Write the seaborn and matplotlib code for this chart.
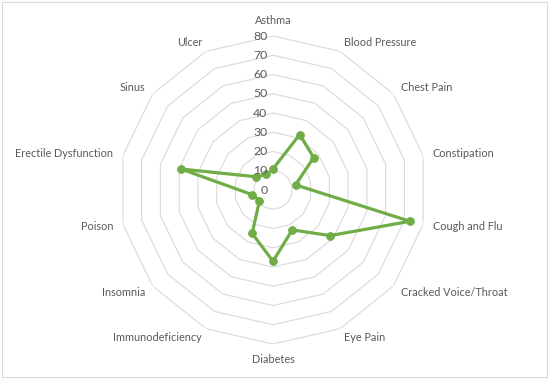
import numpy as np
import pandas as pd
import matplotlib.pyplot as plt
import seaborn as sns

# categories and values
categories = ["Asthma", "Blood Pressure", "Chest Pain", "Constipation", "Cough and Flu",
              "Cracked Voice/Throat", "Eye Pain", "Diabetes", "Immunodeficiency", "Insomnia",
              "Poison", "Erectile Dysfunction", "Sinus", "Ulcer"]
values = [11, 32, 27, 12, 73, 38, 23, 37, 25, 9, 11, 49, 11, 9]
rings = [0, 10, 20, 30, 40, 50, 60, 70, 80]

sns.set_style("white")
plt.rcParams["font.family"] = ["Lato", "DejaVu Sans"]

n = len(categories)
theta = np.linspace(0, 2 * np.pi, n, endpoint=False)

# close the loop for the line
df = pd.DataFrame({"theta": list(theta) + [theta[0]], "value": values + [values[0]]})

fig = plt.figure(figsize=(5.5, 3.79), dpi=100)
ax = fig.add_axes([0.2164, 0.0923, 0.56, 0.8127], projection="polar")
ax.set_theta_zero_location("N")
ax.set_theta_direction(-1)
ax.set_ylim(0, 80)
ax.grid(False)
ax.spines["polar"].set_visible(False)
ax.set_xticks([])
ax.set_yticks([])

# polygon rings
poly_t = list(theta) + [theta[0]]
for r in rings[1:]:
    ax.plot(poly_t, [r] * (n + 1), color="#D9D9D9", lw=0.8, zorder=1)

sns.lineplot(data=df, x="theta", y="value", sort=False, ax=ax, color="#70AD47",
             lw=2.3, marker="o", markersize=5.5, markeredgecolor="#70AD47", zorder=3)
ax.set_xlabel("")
ax.set_ylabel("")

# ring labels
for r in rings:
    ax.annotate(str(r), xy=(0, r), xytext=(-4, 0), textcoords="offset points",
                ha="right", va="center", fontsize=8.8, color="#595959")

# category labels
for t, lab in zip(theta, categories):
    deg = np.degrees(t)
    if np.isclose(deg, 0) or np.isclose(deg, 180):
        ax.text(t, 88, lab, ha="center", va="center", fontsize=7.8, color="#595959")
    elif deg < 180:
        ax.text(t, 85, lab, ha="left", va="center", fontsize=7.8, color="#595959")
    else:
        ax.text(t, 85, lab, ha="right", va="center", fontsize=7.8, color="#595959")

# chart border
fig.patches.append(plt.Rectangle((0.004, 0.006), 0.99, 0.988, transform=fig.transFigure,
                                 fill=False, edgecolor="#D9D9D9", lw=0.8))

fig.savefig("out.png", dpi=100)
